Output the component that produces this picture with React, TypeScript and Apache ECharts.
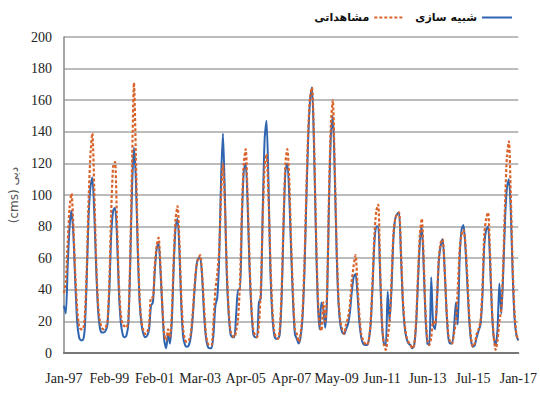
import React, { useEffect, useRef } from "react";
import * as echarts from "echarts";

const tickLabels = ["Jan-97", "Feb-99", "Feb-01", "Mar-03", "Apr-05", "Apr-07", "May-09", "Jun-11", "Jun-13", "Jul-15", "Jan-17"];
const labelStep = 24;

// observed flow (cms)
const observed = [
  38, 45, 70, 92, 101, 80, 50, 28, 17, 15, 15, 22,
  50, 95, 125, 139, 105, 60, 32, 20, 16, 15, 16, 20,
  45, 90, 118, 121, 85, 45, 25, 18, 17, 16, 20, 60,
  120, 171, 125, 70, 35, 20, 14, 12, 13, 18, 35, 35,
  55, 68, 73, 55, 30, 12, 8, 15, 10, 25, 60, 85,
  93, 70, 35, 15, 8, 7, 8, 12, 25, 42, 55, 60,
  62, 50, 30, 12, 6, 5, 5, 20, 40, 50, 65, 100,
  120, 95, 55, 28, 14, 11, 10, 14, 22, 45, 90, 120,
  129, 100, 60, 30, 15, 11, 10, 18, 40, 85, 118, 126,
  100, 60, 30, 14, 10, 9, 15, 40, 85, 120, 129, 110,
  70, 38, 15, 12, 7, 12, 25, 55, 100, 140, 162, 168,
  140, 85, 40, 18, 14, 32, 20, 40, 100, 145, 160, 120,
  70, 35, 20, 15, 12, 18, 22, 30, 45, 55, 62, 45,
  25, 12, 8, 6, 5, 8, 20, 45, 75, 90, 94, 55,
  20, 5, 2, 10, 20, 45, 75, 85, 88, 89, 65, 35,
  18, 10, 7, 5, 3, 5, 20, 50, 75, 85, 60, 25,
  8, 5, 10, 20, 18, 35, 60, 70, 72, 55, 30, 12,
  7, 6, 12, 20, 40, 65, 75, 78, 70, 50, 25, 10,
  4, 6, 12, 15, 20, 40, 75, 85, 89, 65, 30, 10,
  2, 8, 20, 28, 55, 95, 125, 134, 100, 55, 25, 12,
  8,
];

// simulated flow (cms)
const simulated = [
  30, 25, 55, 80, 90, 75, 45, 20, 10, 8, 8, 15,
  45, 85, 105, 111, 90, 55, 28, 16, 13, 13, 14, 18,
  40, 75, 90, 92, 75, 40, 20, 12, 10, 11, 18, 55,
  105, 130, 110, 65, 32, 18, 12, 10, 11, 15, 30, 32,
  52, 66, 70, 52, 28, 8, 3, 12, 6, 20, 55, 80,
  85, 65, 30, 10, 5, 4, 5, 10, 22, 40, 55, 60,
  60, 48, 25, 10, 4, 3, 3, 12, 30, 35, 60, 110,
  139, 100, 50, 25, 12, 10, 10, 25, 40, 40, 85, 115,
  120, 95, 55, 28, 12, 10, 10, 32, 35, 90, 135, 147,
  110, 55, 25, 12, 9, 9, 12, 35, 80, 115, 120, 100,
  65, 33, 12, 9, 6, 10, 22, 50, 95, 135, 160, 168,
  135, 80, 35, 15, 32, 28, 16, 35, 95, 138, 150, 115,
  65, 32, 18, 13, 12, 15, 18, 25, 38, 48, 50, 38,
  20, 10, 6, 5, 5, 8, 18, 42, 70, 80, 80, 50,
  18, 6, 5, 39, 20, 40, 72, 85, 88, 89, 62, 32,
  16, 9, 6, 5, 3, 5, 18, 45, 70, 80, 55, 22,
  6, 5, 48, 18, 15, 32, 58, 68, 72, 55, 28, 10,
  6, 6, 15, 32, 18, 60, 78, 81, 68, 45, 22, 8,
  4, 5, 10, 14, 18, 35, 68, 78, 80, 60, 28, 10,
  5, 15, 44, 25, 50, 85, 105, 110, 90, 50, 22, 11,
  8,
];

const categories = observed.map((_, i) => (i % labelStep === 0 ? tickLabels[i / labelStep] : ""));

const obsName = "مشاهداتی";
const simName = "شبیه سازی";
const serif = "'Liberation Serif', 'Times New Roman', serif";

export default function App() {
  const ref = useRef<HTMLDivElement>(null);
  useEffect(() => {
    if (!ref.current) return;
    const chart = echarts.init(ref.current, undefined, { renderer: "svg", width: 540, height: 403 });
    chart.setOption({
      animation: false,
      backgroundColor: "#ffffff",
      grid: { left: 61, right: 10, top: 37, bottom: 50 },
      legend: {
        data: [obsName, simName],
        top: 7,
        right: 22,
        align: "right",
        itemWidth: 30,
        itemHeight: 10,
        itemGap: 10,
        itemStyle: { opacity: 0 },
        textStyle: { fontFamily: "DejaVu Sans", fontSize: 11, fontWeight: "bold", color: "#111" },
      },
      xAxis: {
        type: "category",
        data: categories,
        boundaryGap: false,
        axisLine: { lineStyle: { color: "#777", width: 2 } },
        axisTick: { show: false },
        axisLabel: {
          interval: labelStep - 1,
          margin: 18,
          fontFamily: serif,
          fontSize: 14,
          color: "#222",
        },
        splitLine: { show: false },
      },
      yAxis: {
        type: "value",
        min: 0,
        max: 200,
        interval: 20,
        name: "(cms) دبی",
        nameLocation: "middle",
        nameGap: 40,
        nameRotate: 90,
        nameTextStyle: { fontFamily: "DejaVu Sans", fontSize: 12, color: "#555" },
        axisLine: { show: true, lineStyle: { color: "#888", width: 1.5 } },
        axisTick: { show: false },
        axisLabel: { margin: 12, fontFamily: serif, fontSize: 14, color: "#222" },
        splitLine: { lineStyle: { color: "#a6a6a6", width: 1.5 } },
      },
      series: [
        {
          name: simName,
          type: "line",
          data: simulated,
          symbol: "none",
          smooth: 0.25,
          color: "#2e64b0",
          lineStyle: { color: "#2e64b0", width: 2 },
        },
        {
          name: obsName,
          type: "line",
          data: observed,
          symbol: "none",
          smooth: 0.25,
          color: "#d9632a",
          lineStyle: { color: "#d9632a", width: 2.2, type: [3, 2] },
        },
      ],
    });
    return () => chart.dispose();
  }, []);
  return <div ref={ref} style={{ position: "fixed", left: 0, top: 0, width: 540, height: 403, overflow: "hidden" }} />;
}
